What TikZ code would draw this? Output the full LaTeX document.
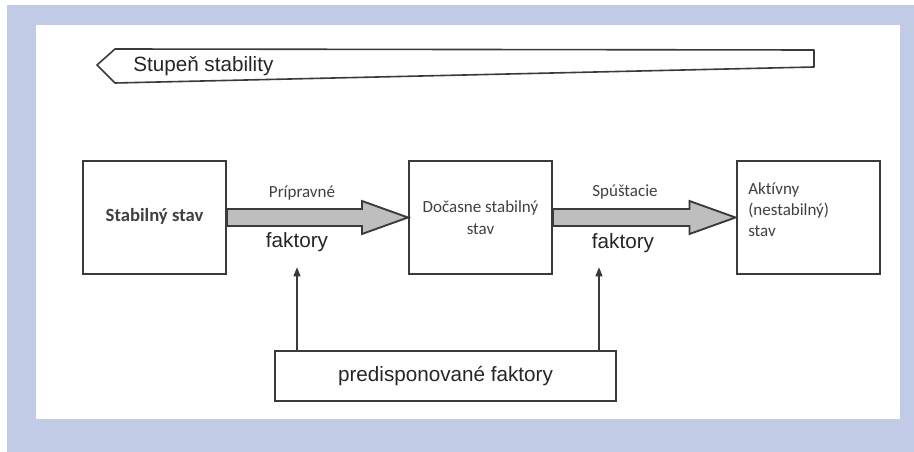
\documentclass[tikz,border=0pt]{standalone}
\usepackage{fontspec}
\setmainfont[Ligatures=NoCommon]{Carlito}
\newfontfamily\arialfont{Liberation Sans}
\usetikzlibrary{arrows.meta,positioning,calc}
\definecolor{Frame}{HTML}{C2CBE6}
\definecolor{Ink}{HTML}{3A3A3A}
\definecolor{Soft}{HTML}{404040}
\definecolor{ShaftGray}{HTML}{BEBEBE}

\tikzset{
  statebox/.style={draw=Ink,line width=1.5pt,minimum width=107.25pt,minimum height=84.75pt,
    inner sep=0pt,align=center,text=Soft,font=\fontsize{12.75}{16.5}\selectfont},
  bigarrow/.style={draw=Ink,fill=ShaftGray,line width=1.4pt,line join=miter},
  smallarrow/.style={draw=Ink,line width=1.5pt,-{Triangle[length=7pt,width=5pt]}},
  armtext/.style={text=Soft,font=\fontsize{12.75}{15}\selectfont},
  armfont/.style={text=black!85,font=\arialfont\fontsize{15.5}{18}\selectfont},
}

\begin{document}
\begin{tikzpicture}[x=0.75pt,y=-0.75pt]
  \useasboundingbox (0,0) rectangle (914,452);
  \fill[Frame] (7,5) rectangle (914,452);
  \fill[white] (36,25) rectangle (900,419);

  % degree of stability
  \draw[Ink,line width=1.2pt,line join=round] (97,65) -- (115,49) -- (814,50) -- (814,67) -- (115,83) -- cycle;
  \node[armfont,anchor=west,inner sep=0pt] (scale) at (133,66) {Stupeň stability};

  % states
  \node[statebox,font=\bfseries\fontsize{14}{16}\selectfont] (stable) at (154.5,217.5) {\raisebox{4pt}{Stabilný stav}};
  \node[statebox] (temp) at (480.5,217.5) {Dočasne stabilný\\stav};
  \node[statebox] (active) at (808,217.5) {};
  \node[armtext,anchor=north west,align=left,inner sep=0pt,
    font=\fontsize{12.75}{15.75}\selectfont] (activetxt) at (748,182) {Aktívny\\(nestabilný)\\stav};

  % fat arrows between states
  \draw[bigarrow] ($(stable.east)+(0,-8.5)$) -- ($(temp.west)+(-46,-8.5)$) -- ($(temp.west)+(-46,-16.5)$)
    -- (temp.west) -- ($(temp.west)+(-46,16.5)$) -- ($(temp.west)+(-46,8.5)$) -- ($(stable.east)+(0,8.5)$) -- cycle;
  \draw[bigarrow] ($(temp.east)+(0,-8.5)$) -- ($(active.west)+(-46,-8.5)$) -- ($(active.west)+(-46,-16.5)$)
    -- (active.west) -- ($(active.west)+(-46,16.5)$) -- ($(active.west)+(-46,8.5)$) -- ($(temp.east)+(0,8.5)$) -- cycle;

  \node[armtext] (prep) at (302,193) {Prípravné};
  \node[armfont] (prepf) at (297,242) {faktory};
  \node[armtext] (trig) at (625,192) {Spúštacie};
  \node[armfont] (trigf) at (623,243) {faktory};

  % predisposing factors
  \node[draw=Ink,line width=1.5pt,minimum width=255.75pt,minimum height=37.5pt,armfont] (predisp) at (445.5,376) {predisponované faktory};
  \coordinate (hit1) at (297,267);
  \coordinate (hit2) at (599,267);
  \draw[smallarrow] (hit1 |- predisp.north) -- (hit1);
  \draw[smallarrow] (hit2 |- predisp.north) -- (hit2);
\end{tikzpicture}
\end{document}
